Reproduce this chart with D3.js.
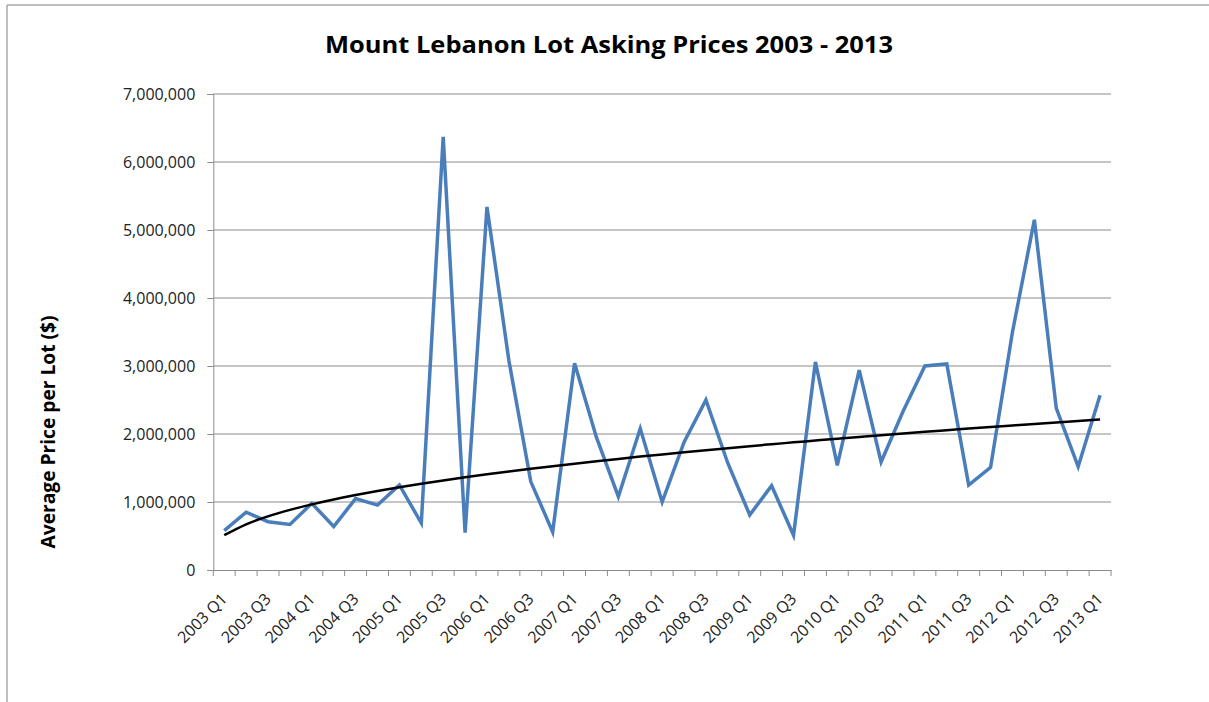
<!DOCTYPE html>
<html>
<head>
<meta charset="utf-8">
<script src="https://cdn.jsdelivr.net/npm/d3@7"></script>
<style>
  html, body { margin: 0; padding: 0; background: #fff; }
  svg { display: block; }
</style>
</head>
<body>
<svg id="chart" width="1209" height="702"></svg>
<script>
// ---- Data ----
const years = [2003, 2004, 2005, 2006, 2007, 2008, 2009, 2010, 2011, 2012, 2013];
const quarters = [];
years.forEach(y => [1, 2, 3, 4].forEach(q => { if (!(y === 2013 && q > 1)) quarters.push(y + " Q" + q); }));

const prices = [
  580000, 850000, 710000, 670000, 980000, 640000, 1050000, 955000, 1250000, 690000,
  6370000, 550000, 5340000, 3080000, 1300000, 560000, 3040000, 1950000, 1080000, 2080000,
  1000000, 1880000, 2500000, 1570000, 810000, 1240000, 510000, 3060000, 1540000, 2940000,
  1590000, 2330000, 3000000, 3030000, 1250000, 1510000, 3500000, 5150000, 2380000, 1520000,
  2570000
];

const yTicks = [0, 1000000, 2000000, 3000000, 4000000, 5000000, 6000000, 7000000];

const titleText = "Mount Lebanon Lot Asking Prices 2003 - 2013";
const yTitleText = "Average Price per Lot ($)";

(function () {
// ---- Power trendline (least squares on ln y vs ln x, x = 1..n) ----
const lx = prices.map((_, i) => Math.log(i + 1));
const ly = prices.map(v => Math.log(v));
const mx = d3.mean(lx), my = d3.mean(ly);
const b = d3.sum(lx.map((x, i) => (x - mx) * (ly[i] - my))) / d3.sum(lx.map(x => (x - mx) * (x - mx)));
const a = Math.exp(my - b * mx);
const trend = prices.map((_, i) => a * Math.pow(i + 1, b));

// ---- Layout ----
const svg = d3.select("#chart");
const pLeft = 213.3, pRight = 1111, pTop = 94, pBottom = 570;
const font = "Open Sans, sans-serif";

// frame
svg.append("line").attr("x1", 7).attr("x2", 1209).attr("y1", 5).attr("y2", 5)
  .attr("stroke", "#a9a9a9").attr("stroke-width", 1.5);
svg.append("line").attr("x1", 7).attr("x2", 7).attr("y1", 5).attr("y2", 702)
  .attr("stroke", "#a9a9a9").attr("stroke-width", 1.5);

const x = d3.scaleBand().domain(quarters).range([pLeft, pRight]).padding(0);
const y = d3.scaleLinear().domain([0, 7000000]).range([pBottom, pTop]);
const cx = d => x(d) + x.bandwidth() / 2;

// gridlines
svg.append("g").selectAll("line").data(yTicks.filter(t => t > 0)).join("line")
  .attr("x1", pLeft).attr("x2", pRight)
  .attr("y1", d => y(d)).attr("y2", d => y(d))
  .attr("stroke", "#8c8c8c").attr("stroke-width", 1);

// y axis
const yAxis = svg.append("g").attr("transform", `translate(${pLeft},0)`)
  .call(d3.axisLeft(y).tickValues(yTicks).tickSize(6).tickPadding(12)
    .tickFormat(d3.format(",")));
yAxis.select(".domain").attr("stroke", "#8c8c8c");
yAxis.selectAll(".tick line").attr("stroke", "#8c8c8c");
yAxis.selectAll("text").attr("font-family", font).attr("font-size", 16)
  .attr("fill", "#222").attr("dy", "0.34em");

// x axis
const xAxis = svg.append("g").attr("transform", `translate(0,${pBottom})`)
  .call(d3.axisBottom(x).tickSize(0).tickFormat(""));
xAxis.select(".domain").attr("stroke", "#8c8c8c");
// tick marks at band edges
svg.append("g").selectAll("line").data(d3.range(quarters.length + 1)).join("line")
  .attr("x1", i => pLeft + i * x.bandwidth()).attr("x2", i => pLeft + i * x.bandwidth())
  .attr("y1", pBottom).attr("y2", pBottom + 6)
  .attr("stroke", "#8c8c8c");

// x labels (every other quarter)
svg.append("g").selectAll("text").data(quarters.filter((q, i) => i % 2 === 0)).join("text")
  .attr("transform", d => `translate(${cx(d) + 1},${pBottom + 27}) rotate(-45)`)
  .attr("text-anchor", "end")
  .attr("dominant-baseline", "middle")
  .attr("font-family", font)
  .attr("font-size", 16)
  .attr("fill", "#222")
  .text(d => d);

// series line
const line = d3.line().x((d, i) => cx(quarters[i])).y(d => y(d));
svg.append("path").datum(prices).attr("d", line)
  .attr("fill", "none").attr("stroke", "#4a7ebb").attr("stroke-width", 3.5)
  .attr("stroke-linejoin", "miter");

// trendline
svg.append("path").datum(trend).attr("d", d3.line().curve(d3.curveMonotoneX)
    .x((d, i) => cx(quarters[i])).y(d => y(d)))
  .attr("fill", "none").attr("stroke", "#000").attr("stroke-width", 2.5);

// title
svg.append("text").attr("x", 609).attr("y", 53).attr("text-anchor", "middle")
  .attr("font-family", font).attr("font-weight", "bold")
  .attr("font-size", 23).attr("fill", "#000")
  .attr("textLength", 568).attr("lengthAdjust", "spacingAndGlyphs")
  .text(titleText);

// y title
svg.append("text").attr("transform", "translate(55,432) rotate(-90)")
  .attr("text-anchor", "middle")
  .attr("font-family", font).attr("font-weight", "bold")
  .attr("font-size", 20).attr("fill", "#000")
  .attr("textLength", 233).attr("lengthAdjust", "spacingAndGlyphs")
  .text(yTitleText);
})();
</script>
</body>
</html>
